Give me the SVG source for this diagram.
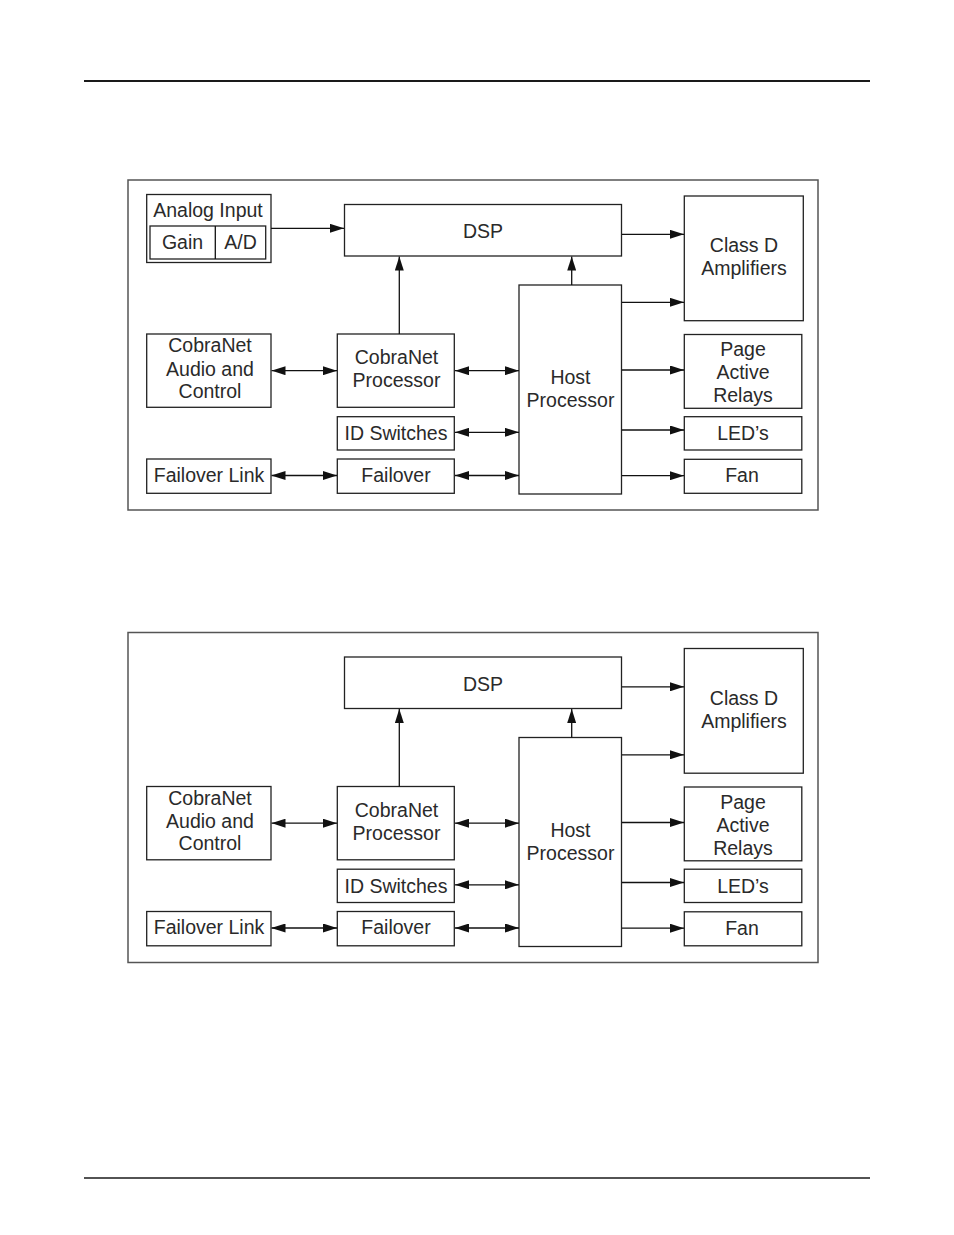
<svg xmlns="http://www.w3.org/2000/svg" width="954" height="1235" viewBox="0 0 954 1235">
<style>
.frame{fill:none;stroke:#555;stroke-width:1.5}
.box{fill:#fff;stroke:#222;stroke-width:1.3}
.ln{fill:none;stroke:#111;stroke-width:1.3}
.t{font-family:"Liberation Sans",Arial,sans-serif;font-size:19.5px;fill:#2a2a2a;text-anchor:middle}
.rule{stroke:#1a1a1a}
</style>
<defs>
<marker id="ah" viewBox="0 0 14 9" refX="14" refY="4.5" markerWidth="14" markerHeight="9" markerUnits="userSpaceOnUse" orient="auto-start-reverse">
<path d="M0,0 L14,4.5 L0,9 Z" fill="#111"/>
</marker>
</defs>
<rect width="954" height="1235" fill="#fff"/>
<line class="rule" x1="84" y1="81" x2="870" y2="81" stroke-width="2"/>
<line class="rule" x1="84" y1="1178" x2="870" y2="1178" stroke-width="1.4"/>

<!-- Diagram 1 -->
<g id="diagram1">
<rect class="frame" x="128" y="180" width="690" height="330"/>
<g id="d1-analog">
<rect class="box" x="146.7" y="194.5" width="124.3" height="68"/>
<rect class="box" x="150" y="226" width="115.7" height="33"/>
<line class="ln" x1="215.3" y1="226" x2="215.3" y2="259"/>
<text class="t" x="208" y="217">Analog Input</text>
<text class="t" x="182.5" y="248.5">Gain</text>
<text class="t" x="240.5" y="248.5">A/D</text>
</g>
<g id="d1-dsp"><rect class="box" x="344.5" y="204.5" width="277" height="51.5"/><text class="t" x="483" y="238.3">DSP</text></g>
<g id="d1-classd"><rect class="box" x="684.3" y="196" width="119" height="124.7"/><text class="t" x="744" y="252.3">Class D</text><text class="t" x="744" y="275.3">Amplifiers</text></g>
<g id="d1-host"><rect class="box" x="519" y="285" width="102.5" height="209"/><text class="t" x="570.5" y="384">Host</text><text class="t" x="570.5" y="407.3">Processor</text></g>
<g id="d1-cna"><rect class="box" x="146.7" y="334" width="124.3" height="73.3"/><text class="t" x="210" y="352.3">CobraNet</text><text class="t" x="210" y="375.5">Audio and</text><text class="t" x="210" y="397.5">Control</text></g>
<g id="d1-cp"><rect class="box" x="337.3" y="334" width="117" height="73.3"/><text class="t" x="396.5" y="364">CobraNet</text><text class="t" x="396.5" y="387">Processor</text></g>
<g id="d1-id"><rect class="box" x="337.3" y="416.7" width="117" height="33.3"/><text class="t" x="396" y="440">ID Switches</text></g>
<g id="d1-fl"><rect class="box" x="146.7" y="459" width="124.3" height="34.3"/><text class="t" x="209" y="481.7">Failover Link</text></g>
<g id="d1-fo"><rect class="box" x="337.3" y="459" width="117" height="34.3"/><text class="t" x="396" y="481.7">Failover</text></g>
<g id="d1-page"><rect class="box" x="684.3" y="334.5" width="117.5" height="73.8"/><text class="t" x="743" y="356">Page</text><text class="t" x="743" y="379">Active</text><text class="t" x="743" y="402.3">Relays</text></g>
<g id="d1-led"><rect class="box" x="684.3" y="416.7" width="117.5" height="33.3"/><text class="t" x="743" y="440">LED’s</text></g>
<g id="d1-fan"><rect class="box" x="684.3" y="459.3" width="117.5" height="34"/><text class="t" x="742" y="482.3">Fan</text></g>
<g id="d1-connectors">
<line class="ln" x1="271" y1="228.3" x2="344" y2="228.3" marker-end="url(#ah)"/>
<line class="ln" x1="399.3" y1="334" x2="399.3" y2="256.5" marker-end="url(#ah)"/>
<line class="ln" x1="571.7" y1="285" x2="571.7" y2="256.5" marker-end="url(#ah)"/>
<line class="ln" x1="622" y1="234.3" x2="684" y2="234.3" marker-end="url(#ah)"/>
<line class="ln" x1="622" y1="302.3" x2="684" y2="302.3" marker-end="url(#ah)"/>
<line class="ln" x1="271.5" y1="370.7" x2="337" y2="370.7" marker-start="url(#ah)" marker-end="url(#ah)"/>
<line class="ln" x1="455" y1="370.7" x2="519" y2="370.7" marker-start="url(#ah)" marker-end="url(#ah)"/>
<line class="ln" x1="455" y1="432.3" x2="519" y2="432.3" marker-start="url(#ah)" marker-end="url(#ah)"/>
<line class="ln" x1="271.5" y1="475.5" x2="337" y2="475.5" marker-start="url(#ah)" marker-end="url(#ah)"/>
<line class="ln" x1="455" y1="475.5" x2="519" y2="475.5" marker-start="url(#ah)" marker-end="url(#ah)"/>
<line class="ln" x1="622" y1="370" x2="684" y2="370" marker-end="url(#ah)"/>
<line class="ln" x1="622" y1="430" x2="684" y2="430" marker-end="url(#ah)"/>
<line class="ln" x1="622" y1="475.7" x2="684" y2="475.7" marker-end="url(#ah)"/>
</g>
</g>

<!-- Diagram 2 -->
<g id="diagram2" transform="translate(0,452.5)">
<rect class="frame" x="128" y="180" width="690" height="330"/>
<g id="d2-dsp"><rect class="box" x="344.5" y="204.5" width="277" height="51.5"/><text class="t" x="483" y="238.3">DSP</text></g>
<g id="d2-classd"><rect class="box" x="684.3" y="196" width="119" height="124.7"/><text class="t" x="744" y="252.3">Class D</text><text class="t" x="744" y="275.3">Amplifiers</text></g>
<g id="d2-host"><rect class="box" x="519" y="285" width="102.5" height="209"/><text class="t" x="570.5" y="384">Host</text><text class="t" x="570.5" y="407.3">Processor</text></g>
<g id="d2-cna"><rect class="box" x="146.7" y="334" width="124.3" height="73.3"/><text class="t" x="210" y="352.3">CobraNet</text><text class="t" x="210" y="375.5">Audio and</text><text class="t" x="210" y="397.5">Control</text></g>
<g id="d2-cp"><rect class="box" x="337.3" y="334" width="117" height="73.3"/><text class="t" x="396.5" y="364">CobraNet</text><text class="t" x="396.5" y="387">Processor</text></g>
<g id="d2-id"><rect class="box" x="337.3" y="416.7" width="117" height="33.3"/><text class="t" x="396" y="440">ID Switches</text></g>
<g id="d2-fl"><rect class="box" x="146.7" y="459" width="124.3" height="34.3"/><text class="t" x="209" y="481.7">Failover Link</text></g>
<g id="d2-fo"><rect class="box" x="337.3" y="459" width="117" height="34.3"/><text class="t" x="396" y="481.7">Failover</text></g>
<g id="d2-page"><rect class="box" x="684.3" y="334.5" width="117.5" height="73.8"/><text class="t" x="743" y="356">Page</text><text class="t" x="743" y="379">Active</text><text class="t" x="743" y="402.3">Relays</text></g>
<g id="d2-led"><rect class="box" x="684.3" y="416.7" width="117.5" height="33.3"/><text class="t" x="743" y="440">LED’s</text></g>
<g id="d2-fan"><rect class="box" x="684.3" y="459.3" width="117.5" height="34"/><text class="t" x="742" y="482.3">Fan</text></g>
<g id="d2-connectors">
<line class="ln" x1="399.3" y1="334" x2="399.3" y2="256.5" marker-end="url(#ah)"/>
<line class="ln" x1="571.7" y1="285" x2="571.7" y2="256.5" marker-end="url(#ah)"/>
<line class="ln" x1="622" y1="234.3" x2="684" y2="234.3" marker-end="url(#ah)"/>
<line class="ln" x1="622" y1="302.3" x2="684" y2="302.3" marker-end="url(#ah)"/>
<line class="ln" x1="271.5" y1="370.7" x2="337" y2="370.7" marker-start="url(#ah)" marker-end="url(#ah)"/>
<line class="ln" x1="455" y1="370.7" x2="519" y2="370.7" marker-start="url(#ah)" marker-end="url(#ah)"/>
<line class="ln" x1="455" y1="432.3" x2="519" y2="432.3" marker-start="url(#ah)" marker-end="url(#ah)"/>
<line class="ln" x1="271.5" y1="475.5" x2="337" y2="475.5" marker-start="url(#ah)" marker-end="url(#ah)"/>
<line class="ln" x1="455" y1="475.5" x2="519" y2="475.5" marker-start="url(#ah)" marker-end="url(#ah)"/>
<line class="ln" x1="622" y1="370" x2="684" y2="370" marker-end="url(#ah)"/>
<line class="ln" x1="622" y1="430" x2="684" y2="430" marker-end="url(#ah)"/>
<line class="ln" x1="622" y1="475.7" x2="684" y2="475.7" marker-end="url(#ah)"/>
</g>
</g>
</svg>
